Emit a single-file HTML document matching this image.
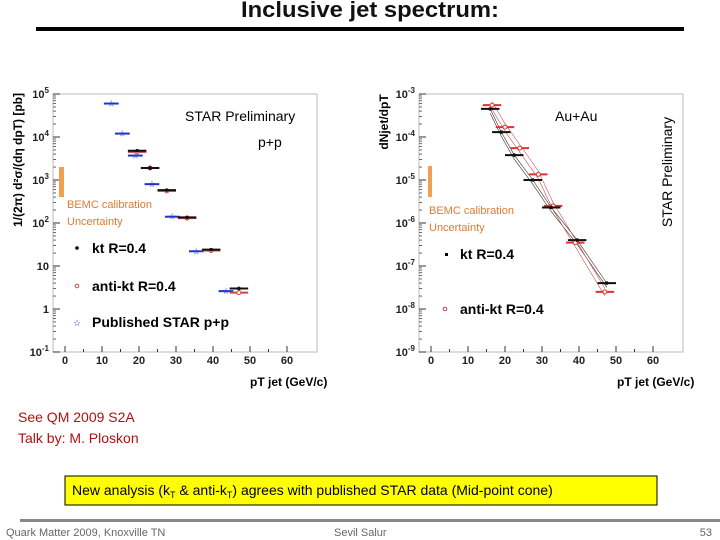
<!DOCTYPE html>
<html><head><meta charset="utf-8"><style>
body{margin:0;background:#fff;width:720px;height:540px;overflow:hidden;font-family:"Liberation Sans",sans-serif}
svg{position:absolute;left:0;top:0}
</style></head><body>
<svg id="s" width="720" height="540" xmlns="http://www.w3.org/2000/svg">
<text x="370" y="17" text-anchor="middle" font-size="22" font-weight="bold" fill="#111" textLength="258" lengthAdjust="spacingAndGlyphs">Inclusive jet spectrum:</text>
<rect x="36" y="27" width="648" height="4" fill="#000"/>
<g id="left"></g>
<g id="right"></g>
<text x="18" y="422" font-size="14" fill="#b01010">See QM 2009 S2A</text>
<text x="18" y="443" font-size="14" fill="#b01010">Talk by: M. Ploskon</text>
<rect x="65" y="476" width="592" height="29" fill="#ffff00" stroke="#000" stroke-width="1"/>
<text x="72" y="495" font-size="14" fill="#000">New analysis (k<tspan font-size="9" dy="3">T</tspan><tspan dy="-3"> &amp; anti-k</tspan><tspan font-size="9" dy="3">T</tspan><tspan dy="-3">) agrees with published STAR data (Mid-point cone)</tspan></text>
<rect x="20" y="519" width="700" height="3" fill="#888"/>
<text x="6" y="536" font-size="11" fill="#666">Quark Matter 2009, Knoxville TN</text>
<text x="334" y="536" font-size="11" fill="#666">Sevil Salur</text>
<text x="712" y="536" font-size="11" fill="#666" text-anchor="end">53</text>
</svg>
<script>
const xTicks=[0,10,20,30,40,50,60];
const ppDecades=[5,4,3,2,1,0,-1];
const ppPubX=[12.5,15.5,19,23.5,29,35.5,43.5];
const ppPubY=[6e4,1.2e4,3.7e3,800,140,22,2.6];
const ppKtX=[19.5,23,27.5,33,39.5,47];
const ppKtY=[4.8e3,1.9e3,580,135,24,3];
const ppAktX=[19.5,23,27.5,33,39.5,47];
const ppAktY=[4.5e3,1.9e3,560,130,23,2.4];
const aaDecades=[-3,-4,-5,-6,-7,-8,-9];
const aaKtX=[16,19,22.5,27.5,32.5,39.5,47.5];
const aaKtY=[4.5e-4,1.3e-4,3.8e-5,1e-5,2.3e-6,4e-7,4e-8];
const aaAktX=[16.5,20,24,29,33,39,47];
const aaAktY=[5.5e-4,1.7e-4,5.5e-5,1.35e-5,2.5e-6,3.5e-7,2.5e-8];
const NS='http://www.w3.org/2000/svg';
function mk(p,t,a){const e=document.createElementNS(NS,t);for(const k in a)e.setAttribute(k,a[k]);p.appendChild(e);return e;}
function chart(g,L,R,T,B,x0,topDec,nDec){
  const sx=v=>x0+v*3.7;
  const sy=v=>T+(topDec-Math.log10(v))*(B-T)/nDec;
  const f=mk(g,'rect',{x:L,y:T,width:R-L,height:B-T,fill:'none',stroke:'#bbb','stroke-width':1});
  
  
  return {sx,sy};
}
function ticks(g,L,R,T,B,sx,decs,sy){
  for(const t of xTicks){
    const l=mk(g,'line',{x1:sx(t),x2:sx(t),y1:B,y2:B-6,stroke:'#333'});
    
    
    const tx=mk(g,'text',{x:sx(t),y:B+12,'text-anchor':'middle','font-size':11,'font-weight':'bold',fill:'#222'});tx.textContent=t;
    
    
    if(t<60){const m=mk(g,'line',{x1:sx(t+5),x2:sx(t+5),y1:B,y2:B-3,stroke:'#333'});}
  }
  for(const d of decs){
    const y=sy(Math.pow(10,d));
    const l=mk(g,'line',{x1:L,x2:L+7,y1:y,y2:y,stroke:'#333'});
    
    
    const tx=mk(g,'text',{x:L-4,y:y+4,'text-anchor':'end','font-size':11,'font-weight':'bold',fill:'#222'});
    
    
    if(d===1)tx.textContent='10';else if(d===0)tx.textContent='1';
    else{tx.textContent='10';const s=mk(tx,'tspan',{'font-size':8,dy:-5});s.textContent=d;}
    if(d!==decs[decs.length-1]){for(let k=2;k<10;k++){const yy=sy(Math.pow(10,d-1)*k);const m=mk(g,'line',{x1:L,x2:L+3,y1:yy,y2:yy,stroke:'#666'});}}
  }
}
function pts(g,xs,ys,sx,sy,col,kind,hw,name){
  xs.forEach((x,i)=>{
    const X=sx(x),Y=sy(ys[i]);
    const e=mk(g,'line',{x1:X-hw*3.7,x2:X+hw*3.7,y1:Y,y2:Y,stroke:col,'stroke-width':2});
    
    
    let m;
    if(kind==='dot')m=mk(g,'circle',{cx:X,cy:Y,r:1.8,fill:col});
    else if(kind==='circ')m=mk(g,'circle',{cx:X,cy:Y,r:2,fill:'#fff',stroke:col});
    else m=mk(g,'text',{x:X,y:Y+3,'text-anchor':'middle','font-size':9,fill:col});
    if(kind==='star')m.textContent='☆';
    
    
  });
}
function txt(g,x,y,s,attrs,name){const t=mk(g,'text',Object.assign({x,y},attrs));t.textContent=s;return t;}
// left
const gl=document.getElementById('left');
const A=chart(gl,53,317,94,352,65,5,6);
ticks(gl,53,317,94,352,A.sx,ppDecades,A.sy);
pts(gl,ppPubX,ppPubY,A.sx,A.sy,'#2233cc','star',2,'published-star');
pts(gl,ppAktX,ppAktY,A.sx,A.sy,'#cc4444','circ',2.5,'anti-kt');
pts(gl,ppKtX,ppKtY,A.sx,A.sy,'#111','dot',2.5,'kt');
let r=mk(gl,'rect',{x:59,y:167,width:5,height:30,fill:'#f0a050'});
txt(gl,67,208,'BEMC calibration',{'font-size':11,fill:'#e07a30'},'bemc-label');
txt(gl,67,225,'Uncertainty',{'font-size':11,fill:'#e07a30'},'bemc-label-2');
txt(gl,185,121,'STAR Preliminary',{'font-size':14,fill:'#000'},'preliminary-label');
txt(gl,258,147,'p+p',{'font-size':14,fill:'#000'},'system-label');
let c=mk(gl,'circle',{cx:77,cy:248,r:1.8,fill:'#000'});
txt(gl,92,253,'kt R=0.4',{'font-size':14,'font-weight':'bold'},'legend-kt');
c=mk(gl,'circle',{cx:77,cy:286,r:1.8,fill:'none',stroke:'#c44'});
txt(gl,92,291,'anti-kt R=0.4',{'font-size':14,'font-weight':'bold'},'legend-anti-kt');
txt(gl,77,326,'☆',{'font-size':9,fill:'#2233cc','text-anchor':'middle'},'legend-published-marker');
txt(gl,92,327,'Published STAR p+p',{'font-size':14,'font-weight':'bold'},'legend-published');
txt(gl,22,160,'1/(2π) d²σ/(dη dpT) [pb]',{'font-size':12,'font-weight':'bold','text-anchor':'middle',transform:'rotate(-90 22 160)'},'y-axis-title');
txt(gl,250,386,'pT jet (GeV/c)',{'font-size':12,'font-weight':'bold'},'x-axis-title');
// right
const gr=document.getElementById('right');
const B2=chart(gr,419,683,94,352,431,-3,6);
ticks(gr,419,683,94,352,B2.sx,aaDecades,B2.sy);
[[aaKtX,aaKtY,'#333',1],[aaKtX,aaKtY,'#333',0.8],[aaAktX,aaAktY,'#c55',1.2],[aaAktX,aaAktY,'#c55',0.8]].forEach((s,j)=>{
  const p=s[0].map((x,i)=>B2.sx(x)+' '+B2.sy(s[1][i]*s[3])).join(' ');
  const l=mk(gr,'polyline',{points:p,fill:'none',stroke:s[2],'stroke-width':0.6});
  
  
});
pts(gr,aaAktX,aaAktY,B2.sx,B2.sy,'#dd3333','circ',2.5,'anti-kt');
pts(gr,aaKtX,aaKtY,B2.sx,B2.sy,'#111','dot',2.5,'kt');
r=mk(gr,'rect',{x:428,y:166,width:4,height:31,fill:'#f0a050'});
txt(gr,429,214,'BEMC calibration',{'font-size':11,fill:'#e07a30'},'bemc-label');
txt(gr,429,231,'Uncertainty',{'font-size':11,fill:'#e07a30'},'bemc-label-2');
txt(gr,555,121,'Au+Au',{'font-size':14},'system-label');
txt(gr,672,172,'STAR Preliminary',{'font-size':14,'text-anchor':'middle',transform:'rotate(-90 672 172)'},'preliminary-label');
r=mk(gr,'rect',{x:445,y:253,width:3,height:3,fill:'#000'});
txt(gr,460,259,'kt R=0.4',{'font-size':14,'font-weight':'bold'},'legend-kt');
c=mk(gr,'circle',{cx:445,cy:309,r:1.8,fill:'none',stroke:'#c44'});
txt(gr,460,314,'anti-kt R=0.4',{'font-size':14,'font-weight':'bold'},'legend-anti-kt');
txt(gr,388,122,'dNjet/dpT',{'font-size':12,'font-weight':'bold','text-anchor':'middle',transform:'rotate(-90 388 122)'},'y-axis-title');
txt(gr,617,386,'pT jet (GeV/c)',{'font-size':12,'font-weight':'bold'},'x-axis-title');
</script>
</body></html>
